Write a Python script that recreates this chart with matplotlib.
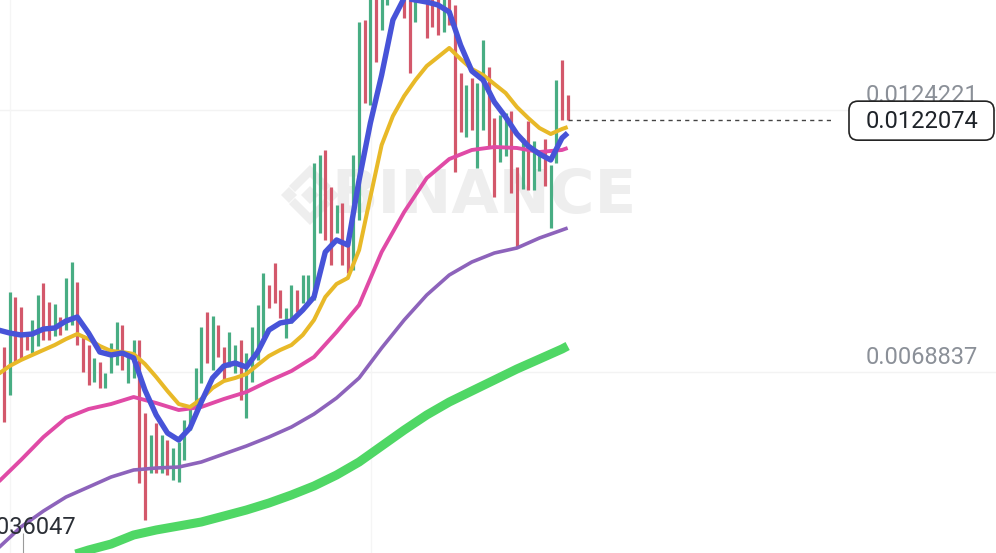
import numpy as np
import matplotlib
matplotlib.use('Agg')
import matplotlib.pyplot as plt
from matplotlib.patches import FancyBboxPatch, Polygon

# candles, one per slot
opens = [0.007412, 0.006397, 0.008469, 0.008258, 0.007729, 0.007285, 0.007433, 0.008765, 0.008363, 0.007644,
         0.008046, 0.007772, 0.007877, 0.008786, 0.007666, 0.007454, 0.006672, 0.007095, 0.006545, 0.006862,
         0.007032, 0.007877, 0.006651, 0.006757, 0.007560, 0.006017, 0.004748, 0.005805, 0.004748, 0.005446,
         0.004600, 0.004558, 0.005023, 0.005657, 0.006017, 0.006651, 0.008152, 0.006926, 0.007877, 0.007412,
         0.006989, 0.006862, 0.007560, 0.005911, 0.006672, 0.007137, 0.007623, 0.008723, 0.009188, 0.008617,
         0.007602, 0.007920, 0.008617, 0.008342, 0.008342, 0.008406, 0.009822, 0.011577, 0.010794, 0.009822,
         0.010456, 0.009611, 0.009040, 0.010097, 0.014325, 0.012528, 0.015382, 0.014113, 0.014642, 0.014853,
         0.015804, 0.015593, 0.015382, 0.014282, 0.015593, 0.015382, 0.015382, 0.015382, 0.014071, 0.015382,
         0.014642, 0.013204, 0.011851, 0.013099, 0.011196, 0.011999, 0.013331, 0.012253, 0.011323, 0.011450,
         0.012401, 0.011217, 0.010752, 0.012189, 0.010731, 0.011133, 0.011809, 0.009928, 0.011302, 0.013479,
         0.012739]
closes = [0.005827, 0.008575, 0.007095, 0.007137, 0.007349, 0.007983, 0.008511, 0.007560, 0.007560, 0.008321,
          0.007666, 0.008871, 0.009209, 0.007454, 0.006884, 0.006609, 0.007180, 0.006545, 0.006862, 0.007497,
          0.007941, 0.006926, 0.007306, 0.007560, 0.004537, 0.003755, 0.005552, 0.004748, 0.005552, 0.004706,
          0.005277, 0.005404, 0.005869, 0.006186, 0.006968, 0.007835, 0.007074, 0.008068, 0.007201, 0.006714,
          0.007729, 0.007454, 0.006292, 0.007285, 0.007835, 0.008300, 0.008976, 0.008236, 0.008342, 0.008025,
          0.008236, 0.008723, 0.008152, 0.008934, 0.008934, 0.011302, 0.011471, 0.009674, 0.009145, 0.010414,
          0.009145, 0.008976, 0.011471, 0.014282, 0.012570, 0.015382, 0.013437, 0.015593, 0.015593, 0.015804,
          0.014853, 0.014366, 0.013204, 0.015593, 0.014811, 0.013944, 0.014177, 0.014007, 0.015382, 0.014219,
          0.011111, 0.011957, 0.012950, 0.011999, 0.012993, 0.013902, 0.011661, 0.010583, 0.012316, 0.012359,
          0.010668, 0.009505, 0.011830, 0.010731, 0.011767, 0.011577, 0.010816, 0.011259, 0.013056, 0.012211,
          0.0122074]

# moving averages sampled at candle slots
fast_idx = [-1] + list(range(1, 100, 2)) + [100]
ma_blue = [0.007771, 0.007708, 0.007666, 0.007687, 0.007792, 0.007814, 0.007962, 0.008046, 0.007708, 0.007306,
           0.007243, 0.007285, 0.007180, 0.006503, 0.005975, 0.005594, 0.005446, 0.005700, 0.006249, 0.006757,
           0.007010, 0.007074, 0.006989, 0.007306, 0.007771, 0.007920, 0.007962, 0.008194, 0.008469, 0.009420,
           0.009674, 0.009568, 0.010942, 0.012147, 0.013162, 0.014325, 0.014789, 0.014747, 0.014705, 0.014642,
           0.014494, 0.013796, 0.013246, 0.013056, 0.012591, 0.012274, 0.011915, 0.011661, 0.011492, 0.011365,
           0.011830, 0.011936]
ma_yellow = [0.006841, 0.007010, 0.007137, 0.007243, 0.007349, 0.007454, 0.007581, 0.007687, 0.007581, 0.007433,
             0.007327, 0.007306, 0.007264, 0.007053, 0.006778, 0.006482, 0.006207, 0.006144, 0.006313, 0.006545,
             0.006693, 0.006757, 0.006841, 0.007032, 0.007222, 0.007349, 0.007454, 0.007666, 0.007983, 0.008469,
             0.008744, 0.008871, 0.009462, 0.010583, 0.011682, 0.012295, 0.012718, 0.013056, 0.013352, 0.013542,
             0.013733, 0.013500, 0.013289, 0.013162, 0.012971, 0.012781, 0.012485, 0.012253, 0.012041, 0.011915,
             0.012020, 0.012062]

slow_idx = [-1] + list(range(3, 100, 4)) + [100]
ma_pink = [0.004558, 0.005023, 0.005509, 0.005911, 0.006101, 0.006207, 0.006355, 0.006228, 0.006080, 0.006144,
           0.006313, 0.006461, 0.006693, 0.006905, 0.007201, 0.007729, 0.008300, 0.009420, 0.010266, 0.010984,
           0.011386, 0.011577, 0.011640, 0.011619, 0.011534, 0.011577, 0.011619]
ma_purple = [0.003163, 0.003607, 0.003945, 0.004241, 0.004452, 0.004664, 0.004812, 0.004854, 0.004875, 0.004981,
             0.005150, 0.005319, 0.005509, 0.005721, 0.005995, 0.006334, 0.006757, 0.007391, 0.007983, 0.008511,
             0.008934, 0.009209, 0.009399, 0.009505, 0.009716, 0.009885, 0.009928]
ma_green = [0.002487, 0.002656, 0.002804, 0.002973, 0.003121, 0.003247, 0.003438, 0.003544, 0.003628, 0.003713,
            0.003839, 0.003966, 0.004114, 0.004284, 0.004474, 0.004706, 0.004981, 0.005319, 0.005657, 0.005975,
            0.006249, 0.006482, 0.006714, 0.006947, 0.007158, 0.007370, 0.007433]

grid_prices = [0.0124221, 0.0068837]
grid_labels = ['0.0124221', '0.0068837']
low_price = 0.0036047
low_label = '0.0036047'
last_label = '0.0122074'

W, H = 996, 553
fig = plt.figure(figsize=(W / 100, H / 100), dpi=100)
fig.patch.set_facecolor('white')

# watermark layer (pixel coords)
bg = fig.add_axes([0, 0, 1, 1], zorder=0)
bg.set_xlim(0, W)
bg.set_ylim(H, 0)
bg.axis('off')
wm = '#eeeeee'
bg.add_patch(Polygon([(310, 186), (319, 195), (310, 204), (301, 195)], fc=wm, ec='none'))
bg.add_patch(Polygon([(289, 187), (297, 195), (289, 203), (281, 195)], fc=wm, ec='none'))
bg.add_patch(Polygon([(331, 187), (339, 195), (331, 203), (323, 195)], fc=wm, ec='none'))
bg.add_patch(Polygon([(310, 165), (331, 186), (325, 192), (310, 177), (295, 192), (289, 186)], fc=wm, ec='none'))
bg.add_patch(Polygon([(310, 225), (331, 204), (325, 198), (310, 213), (295, 198), (289, 204)], fc=wm, ec='none'))
bg.text(484, 197, 'BINANCE', ha='center', va='center', fontsize=44, fontweight='bold',
        family='DejaVu Sans', color=wm)

# chart layer
ax = fig.add_axes([0, 0, 1, 1], zorder=1)
ax.patch.set_alpha(0)
ax.set_xlim(-0.71, 176.0)
ax.set_ylim(0.0030575, 0.0147474)
ax.axis('off')

for g in grid_prices:
    ax.axhline(g, color='#f3f3f3', lw=1, zorder=0)
for gx in [1.06, 65.1]:
    ax.axvline(gx, color='#f5f5f5', lw=1, zorder=0)

o = np.array(opens)
c = np.array(closes)
idx = np.arange(len(o))
up = c >= o
cols = np.where(up, '#48ad83', '#d3586b')
ax.vlines(idx, np.minimum(o, c), np.maximum(o, c), colors=cols, lw=2.3, zorder=2)

line_kw = dict(solid_capstyle='butt', solid_joinstyle='round')
ax.plot(slow_idx, ma_green, color='#4fd765', lw=6.5, zorder=3, **line_kw)
ax.plot(slow_idx, ma_purple, color='#8d63bb', lw=2.6, zorder=3, **line_kw)
ax.plot(slow_idx, ma_pink, color='#e04aa6', lw=2.8, zorder=3, **line_kw)
ax.plot(fast_idx, ma_yellow, color='#e8b928', lw=2.9, zorder=4, **line_kw)
ax.plot(fast_idx, ma_blue, color='#4753d8', lw=3.9, zorder=5, **line_kw)

# last price dashed line
ax.hlines(closes[-1], 100, 147.1, colors='#444444', linestyles=(0, (3, 3)), lw=1, zorder=4)

for g, t in zip(grid_prices, grid_labels):
    ax.annotate(t, xy=(172.8, g), xytext=(0, 6), textcoords='offset points', ha='right',
                va='baseline', fontsize=17, family='Roboto', color='#8b9098', zorder=6)

# lowest price marker
ax.text(12.8, low_price, low_label, ha='right', va='center', fontsize=17, family='Roboto',
        color='#2b2f36', zorder=6)
ax.vlines(3.37, 0.0030575, 0.003480, colors='#9a9a9a', lw=0.8, zorder=6)

# last price box (pixel coords)
fg = fig.add_axes([0, 0, 1, 1], zorder=2)
fg.patch.set_alpha(0)
fg.set_xlim(0, W)
fg.set_ylim(H, 0)
fg.axis('off')
yp = H - ax.transData.transform((0, closes[-1]))[1]
fg.add_patch(FancyBboxPatch((849, yp - 19), 145, 39, boxstyle='round,pad=0,rounding_size=9',
                            fc='white', ec='#222222', lw=1.2))
fg.text(978, yp + 1, last_label, ha='right', va='center', fontsize=17, family='Roboto',
        color='#1e2329')

fig.savefig('out.png', dpi=100)
